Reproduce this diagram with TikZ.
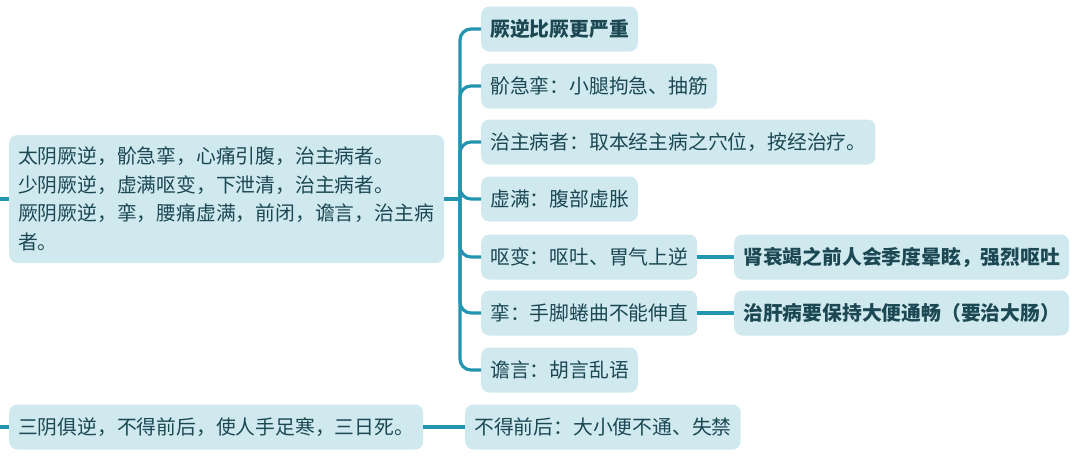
\documentclass[tikz,border=0pt]{standalone}
\usepackage{fontspec}
\setmainfont{Noto Sans CJK SC}
\newfontfamily\cjk{Noto Sans CJK SC}
\definecolor{boxfill}{HTML}{CFE9EF}
\definecolor{txt}{HTML}{1B4853}
\definecolor{linec}{HTML}{2296B0}
\tikzset{
  topic/.style={fill=boxfill, text=txt, rounded corners=8pt, inner xsep=9pt, inner ysep=0pt,
    minimum height=45pt, anchor=west, font=\cjk\fontsize{19.8}{28.5}\selectfont},
  bold/.style={font=\cjk\bfseries\fontsize{19.8}{28.5}\selectfont},
  conn/.style={draw=linec, line width=3.2pt, rounded corners=11pt},
}
\begin{document}
\begin{tikzpicture}[x=1pt,y=-1pt]
\useasboundingbox (0,0) rectangle (1080,459);
\node[topic, align=left, inner ysep=12pt, text width=417pt] (main) at (9,199)
 {太阴厥逆，骱急挛，心痛引腹，治主病者。\\少阴厥逆，虚满呕变，下泄清，治主病者。\\厥阴厥逆，挛，腰痛虚满，前闭，谵言，治主病\\者。};
\node[topic, bold] (c1) at (481,29) {厥逆比厥更严重};
\node[topic] (c2) at (481,86) {骱急挛：小腿拘急、抽筋};
\node[topic] (c3) at (481,142) {治主病者：取本经主病之穴位，按经治疗。};
\node[topic] (c4) at (481,199) {虚满：腹部虚胀};
\node[topic] (c5) at (481,257) {呕变：呕吐、胃气上逆};
\node[topic] (c6) at (481,313) {挛：手脚蜷曲不能伸直};
\node[topic] (c7) at (481,370) {谵言：胡言乱语};
\node[topic, bold] (g5) at (734,257) {肾衰竭之前人会季度晕眩，强烈呕吐};
\node[topic, bold] (g6) at (734,313) {治肝病要保持大便通畅（要治大肠）};
\node[topic] (b1) at (9,427) {三阴俱逆，不得前后，使人手足寒，三日死。};
\node[topic] (b2) at (465,427) {不得前后：大小便不通、失禁};
\coordinate (in1) at (0,199);
\coordinate (in2) at (0,427);
\coordinate (tr) at (460,199);
\draw[conn] (in1) -- (main.west);
\draw[conn] (main.east) -- (tr);
\foreach \c in {c1,c2,c3,c4,c5,c6,c7} { \draw[conn] (tr) |- (\c.west); }
\draw[conn] (c5.east) -- (g5.west);
\draw[conn] (c6.east) -- (g6.west);
\draw[conn] (in2) -- (b1.west);
\draw[conn] (b1.east) -- (b2.west);
\end{tikzpicture}
\end{document}
